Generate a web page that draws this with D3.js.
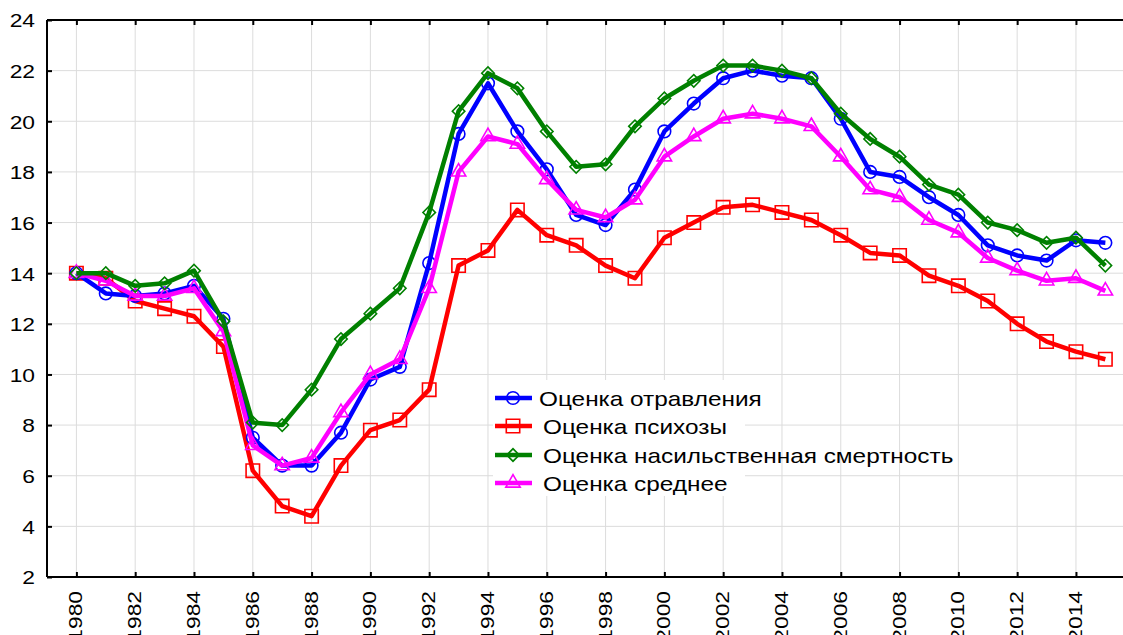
<!DOCTYPE html>
<html>
<head>
<meta charset="utf-8">
<script src="https://cdn.jsdelivr.net/npm/d3@7"></script>
<style>
  body { margin: 0; background: #fff; }
  svg { display: block; font-family: "Liberation Sans", Arial, sans-serif; }
</style>
</head>
<body>
<script>
const years = d3.range(1980, 2016);
const yTicks = [2, 4, 6, 8, 10, 12, 14, 16, 18, 20, 22, 24];
const xTicks = d3.range(1980, 2015, 2);

// values
const poison = [14.0, 13.2, 13.1, 13.2, 13.5, 12.2, 7.5, 6.4, 6.4, 7.7, 9.8, 10.3,
  14.4, 19.5, 21.5, 19.6, 18.1, 16.3, 15.9, 17.3, 19.6, 20.7, 21.7, 22.0,
  21.8, 21.7, 20.1, 18.0, 17.8, 17.0, 16.3, 15.1, 14.7, 14.5, 15.3, 15.2];
const psychosis = [14.0, 13.8, 12.9, 12.6, 12.3, 11.1, 6.2, 4.8, 4.4, 6.4, 7.8, 8.2,
  9.4, 14.3, 14.9, 16.5, 15.5, 15.1, 14.3, 13.8, 15.4, 16.0, 16.6, 16.7,
  16.4, 16.1, 15.5, 14.8, 14.7, 13.9, 13.5, 12.9, 12.0, 11.3, 10.9, 10.6];
const violent = [14.0, 14.0, 13.5, 13.6, 14.1, 12.1, 8.1, 8.0, 9.4, 11.4, 12.4, 13.4,
  16.4, 20.4, 21.9, 21.3, 19.6, 18.2, 18.3, 19.8, 20.9, 21.6, 22.2, 22.2,
  22.0, 21.7, 20.3, 19.3, 18.6, 17.5, 17.1, 16.0, 15.7, 15.2, 15.4, 14.3];
const average = [14.0, 13.7, 13.1, 13.1, 13.4, 11.7, 7.2, 6.4, 6.7, 8.5, 10.0, 10.6,
  13.4, 18.0, 19.4, 19.1, 17.7, 16.5, 16.2, 16.9, 18.6, 19.4, 20.1, 20.3,
  20.1, 19.8, 18.6, 17.3, 17.0, 16.1, 15.6, 14.6, 14.1, 13.7, 13.8, 13.3];

const series = [
  { name: "Оценка отравления", values: poison, color: "#0000ff", symbol: "circle", order: 1 },
  { name: "Оценка психозы", values: psychosis, color: "#ff0000", symbol: "square", order: 0 },
  { name: "Оценка насильственная смертность", values: violent, color: "#008000", symbol: "diamond", order: 3 },
  { name: "Оценка среднее", values: average, color: "#ff00ff", symbol: "triangle", order: 2 }
];

const W = 1123, H = 635;
const margin = { top: 20, right: 0, bottom: 58, left: 47 };
const stretch = 1.2; // glyphs in the picture are wider than plain Arial

const svg = d3.select("body").append("svg")
  .attr("width", W)
  .attr("height", H);

const x = d3.scaleLinear()
  .domain([1979, 2015.6])
  .range([margin.left, W - margin.right]);
const y = d3.scaleLinear()
  .domain([2, 24])
  .range([H - margin.bottom, margin.top]);

// grid
svg.append("g").selectAll("line")
  .data(xTicks)
  .join("line")
    .attr("x1", d => x(d)).attr("x2", d => x(d))
    .attr("y1", y(2)).attr("y2", y(24))
    .attr("stroke", "#dcdcdc").attr("stroke-width", 1);
svg.append("g").selectAll("line")
  .data(yTicks)
  .join("line")
    .attr("x1", x(1979)).attr("x2", W)
    .attr("y1", d => y(d)).attr("y2", d => y(d))
    .attr("stroke", "#dcdcdc").attr("stroke-width", 1);

// axes
const yAxis = svg.append("g")
  .attr("transform", `translate(${margin.left},0)`)
  .call(d3.axisRight(y).tickValues(yTicks).tickSize(5).tickFormat(""));
yAxis.selectAll(".tick").append("text")
  .attr("transform", `translate(-12,0) scale(${stretch},1)`)
  .attr("dy", "0.36em")
  .attr("text-anchor", "end")
  .attr("fill", "#000")
  .style("font-size", "19px")
  .text(d => d);

const xAxis = svg.append("g")
  .attr("transform", `translate(0,${y(2)})`)
  .call(d3.axisTop(x).tickValues(xTicks).tickSize(5).tickFormat(""));
xAxis.selectAll(".tick").append("text")
  .attr("transform", `translate(5.5,14) rotate(-90) scale(${stretch},1)`)
  .attr("text-anchor", "end")
  .attr("fill", "#000")
  .style("font-size", "19px")
  .text(d => d);

const topAxis = svg.append("g")
  .attr("transform", `translate(0,${y(24)})`)
  .call(d3.axisBottom(x).tickValues(xTicks).tickSize(5).tickFormat(""));

[yAxis, xAxis, topAxis].forEach(a => {
  a.select(".domain").attr("stroke", "#000").attr("stroke-width", 2);
  a.selectAll(".tick line").attr("stroke", "#000").attr("stroke-width", 2);
});
yAxis.select(".domain").attr("d", `M0,${y(2)}V${y(24)}`);
xAxis.select(".domain").attr("d", `M${margin.left},0H${W}`);
topAxis.select(".domain").attr("d", `M${margin.left},0H${W}`);

const symbols = {
  circle: { gen: d3.symbol().type(d3.symbolCircle).size(125), rot: 0 },
  square: { gen: d3.symbol().type(d3.symbolSquare).size(180), rot: 0 },
  diamond: { gen: d3.symbol().type(d3.symbolSquare).size(78), rot: 45 },
  triangle: { gen: d3.symbol().type(d3.symbolTriangle).size(90), rot: 0 }
};

const line = d3.line()
  .x((d, i) => x(years[i]))
  .y(d => y(d));

const plot = svg.append("g");
series.slice().sort((a, b) => a.order - b.order).forEach(s => {
  const g = plot.append("g");
  const sym = symbols[s.symbol];
  g.append("path")
    .attr("d", line(s.values))
    .attr("fill", "none")
    .attr("stroke", s.color)
    .attr("stroke-width", 4.5)
    .attr("stroke-linejoin", "round");
  g.selectAll("path.mk")
    .data(s.values)
    .join("path")
      .attr("class", "mk")
      .attr("transform", (d, i) => `translate(${x(years[i])},${y(d)}) rotate(${sym.rot})`)
      .attr("d", sym.gen())
      .attr("fill", "none")
      .attr("stroke", s.color)
      .attr("stroke-width", 1.6);
});

// legend
const legend = svg.append("g");
legend.append("rect")
  .attr("x", 493).attr("y", 380)
  .attr("width", 252).attr("height", 116)
  .attr("fill", "#fff");
const rowY = [398, 426, 455, 483];
const textX = [539, 543, 543, 543];
series.forEach((s, i) => {
  const sym = symbols[s.symbol];
  const r = legend.append("g").attr("transform", `translate(0,${rowY[i]})`);
  r.append("line")
    .attr("x1", 495).attr("x2", 532)
    .attr("stroke", s.color).attr("stroke-width", 4.5);
  r.append("path")
    .attr("transform", `translate(513,0) rotate(${sym.rot})`)
    .attr("d", sym.gen())
    .attr("fill", "none")
    .attr("stroke", s.color)
    .attr("stroke-width", 1.6);
  r.append("text")
    .attr("transform", `translate(${textX[i]},0) scale(1.16,1)`)
    .attr("dy", "0.36em")
    .style("font-size", "21px")
    .attr("fill", "#000")
    .text(s.name);
});
</script>
</body>
</html>
